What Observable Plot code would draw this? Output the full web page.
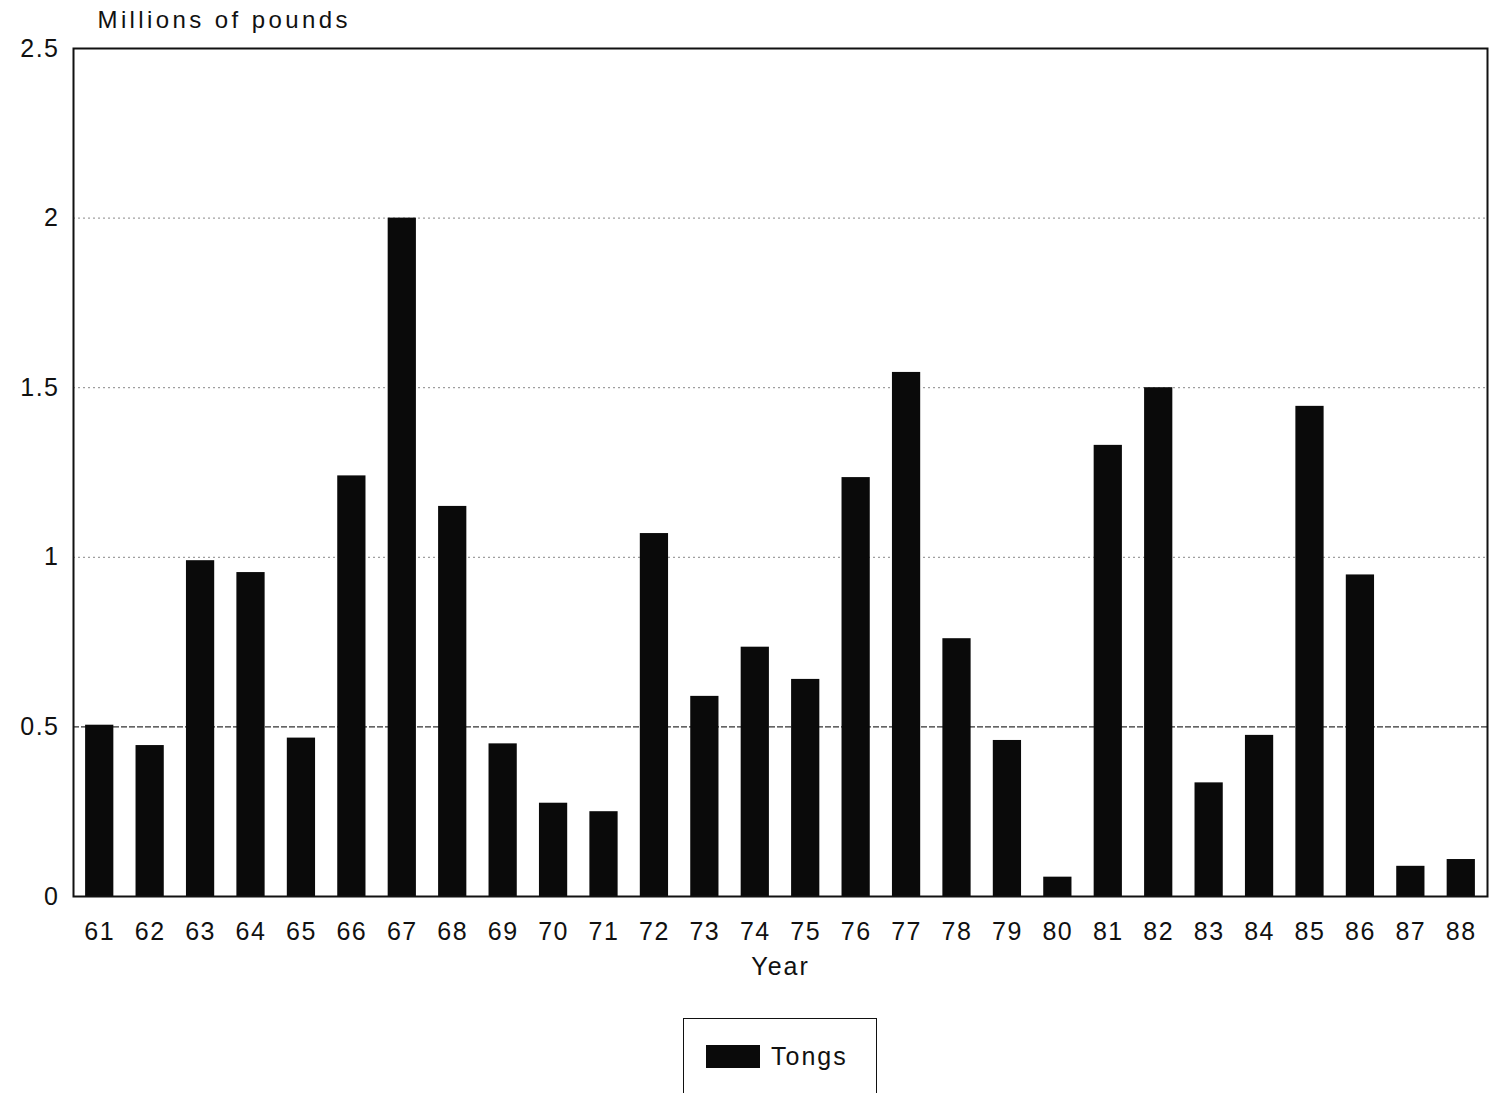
<!DOCTYPE html>
<html>
<head>
<meta charset="utf-8">
<script src="https://cdn.jsdelivr.net/npm/d3@7"></script>
<script src="https://cdn.jsdelivr.net/npm/@observablehq/plot@0.6"></script>
<style>
  html, body { margin: 0; padding: 0; background: #fff; }
  body { width: 1491px; font-family: "Liberation Sans", Arial, sans-serif; }
  #legend {
    margin-left: 683px; margin-top: 18px;
    width: 194px; height: 77px; box-sizing: border-box;
    border: 1.5px solid #111;
    display: flex; align-items: center; padding-left: 22px;
  }
  #legend .sw { width: 54px; height: 23px; background: #0a0a0a; }
  #legend .lb { margin-left: 11px; font-size: 25px; letter-spacing: 2px; color: #111; }
  svg g[aria-label="x-axis tick label"] text, svg g[aria-label="y-axis tick label"] text { letter-spacing: 1.5px; }
</style>
</head>
<body>
<div id="chart"></div>
<div id="legend"><div class="sw"></div><div class="lb">Tongs</div></div>
<script>
const years = ["61","62","63","64","65","66","67","68","69","70","71","72","73","74","75","76","77","78","79","80","81","82","83","84","85","86","87","88"];
const tongs = [0.505,0.445,0.99,0.955,0.467,1.24,2.0,1.15,0.45,0.275,0.25,1.07,0.59,0.735,0.64,1.235,1.545,0.76,0.46,0.057,1.33,1.5,0.335,0.475,1.445,0.948,0.089,0.109];
const yTicks = [0,0.5,1,1.5,2,2.5];
const dottedGrid = [1,1.5,2];
const dashedGrid = [0.5];
const yLabel = "Millions of pounds";
const xLabel = "Year";

const data = years.map((y, i) => ({year: y, value: tongs[i]}));

const chart = Plot.plot({
  width: 1491,
  height: 1000,
  marginTop: 48,
  marginBottom: 104,
  marginLeft: 73,
  marginRight: 4,
  style: {fontFamily: "'Liberation Sans', Arial, sans-serif", fontSize: "25px", color: "#111", background: "#fff"},
  x: {domain: years, round: false, paddingInner: 0.44, paddingOuter: 0.24, label: null, tickSize: 0, tickPadding: 26},
  y: {domain: [0, 2.5], ticks: yTicks, tickFormat: d => String(d), label: null, tickSize: 0, tickPadding: 14},
  marks: [
    Plot.ruleY(dottedGrid, {stroke: "#888", strokeDasharray: "2,3", strokeWidth: 1}),
    Plot.ruleY(dashedGrid, {stroke: "#333", strokeDasharray: "6,2", strokeWidth: 1.2}),
    Plot.barY(data, {x: "year", y: "value", fill: "#0a0a0a"}),
    Plot.frame({stroke: "#111", strokeWidth: 2}),
    Plot.text([yLabel], {frameAnchor: "top-left", text: d => d, dx: 24, dy: -28, textAnchor: "start", lineAnchor: "middle", fontSize: 24, fill: "#111"}),
    Plot.text([xLabel], {frameAnchor: "bottom", text: d => d, dy: 70, lineAnchor: "middle", fontSize: 25, fill: "#111"})
  ]
});
document.getElementById("chart").appendChild(chart);
d3.select(chart).selectAll("text").filter(function() { return this.textContent === yLabel; }).style("letter-spacing", "3.4px");
d3.select(chart).selectAll("text").filter(function() { return this.textContent === xLabel; }).style("letter-spacing", "2px");
</script>
</body>
</html>
